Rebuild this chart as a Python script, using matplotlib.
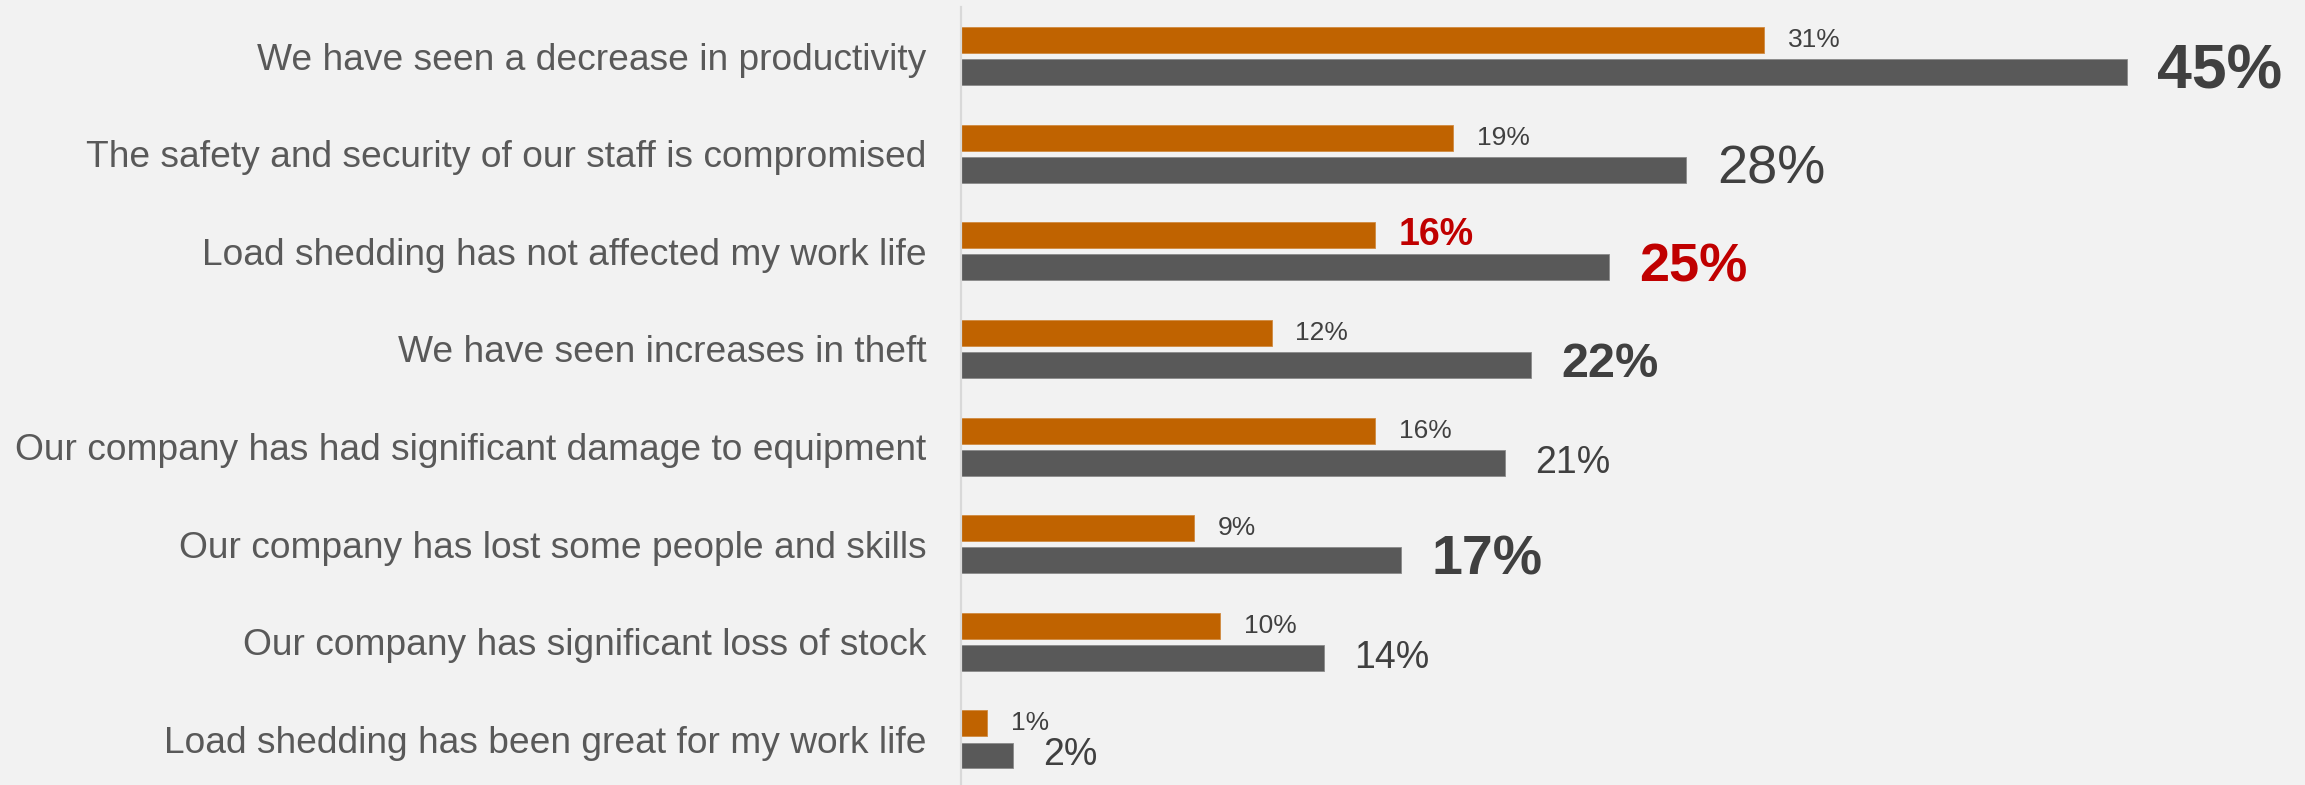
import numpy as np
import matplotlib
matplotlib.use("Agg")
from matplotlib import pyplot as plt

categories = [
    "We have seen a decrease in productivity",
    "The safety and security of our staff is compromised",
    "Load shedding has not affected my work life",
    "We have seen increases in theft",
    "Our company has had significant damage to equipment",
    "Our company has lost some people and skills",
    "Our company has significant loss of stock",
    "Load shedding has been great for my work life",
]
orange_values = [31, 19, 16, 12, 16, 9, 10, 1]
gray_values = [45, 28, 25, 22, 21, 17, 14, 2]

ORANGE = "#C06300"
GRAY = "#595959"
BG = "#F2F2F2"
TEXT = "#404040"
RED = "#C00000"

# per-label styling (size in pt, weight, colour)
orange_label_style = [
    (19, "normal", TEXT), (19, "normal", TEXT), (27, "bold", RED), (19, "normal", TEXT),
    (19, "normal", TEXT), (19, "normal", TEXT), (19, "normal", TEXT), (19, "normal", TEXT),
]
gray_label_style = [
    (45, "bold", TEXT), (39, "normal", TEXT), (39, "bold", RED), (35, "bold", TEXT),
    (27, "normal", TEXT), (40, "bold", TEXT), (27, "normal", TEXT), (27, "normal", TEXT),
]

plt.rcParams["font.family"] = ["Liberation Sans", "DejaVu Sans"]

W, H = 2305, 785
fig = plt.figure(figsize=(W / 100, H / 100), dpi=100, facecolor=BG)
ax_left = 961 / W
ax_top = 7
ax = fig.add_axes([ax_left, 0, 1 - ax_left, (H - ax_top) / H], facecolor=BG)

y = np.arange(len(categories))
offset = 0.164
height = 0.266

ax.barh(y - offset, orange_values, height=height, color=ORANGE, edgecolor="#D08A40", linewidth=0.6)
ax.barh(y + offset, gray_values, height=height, color=GRAY, edgecolor="#8A8A8A", linewidth=0.6)

for i in range(len(categories)):
    size, weight, color = orange_label_style[i]
    ax.annotate(f"{orange_values[i]}%", (orange_values[i], y[i] - offset),
                xytext=(17, 0), textcoords="offset points",
                ha="left", va="center", fontsize=size, fontweight=weight, color=color)
    size, weight, color = gray_label_style[i]
    ax.annotate(f"{gray_values[i]}%", (gray_values[i], y[i] + offset),
                xytext=(22, 0), textcoords="offset points",
                ha="left", va="center", fontsize=size, fontweight=weight, color=color)

ax.set_xlim(0, 1344 / 25.9)
ax.set_ylim((H - 56) / 97.64, -(56 - ax_top) / 97.64)
ax.set_xticks([])
ax.set_yticks(y)
ax.set_yticklabels(categories, fontsize=26.7, color=GRAY)
ax.tick_params(axis="y", length=0, pad=25)

for side in ("top", "right", "bottom"):
    ax.spines[side].set_visible(False)
ax.spines["left"].set_color("#D9D9D9")
ax.spines["left"].set_linewidth(1.6)

fig.savefig("out.png", dpi=100, facecolor=BG)
